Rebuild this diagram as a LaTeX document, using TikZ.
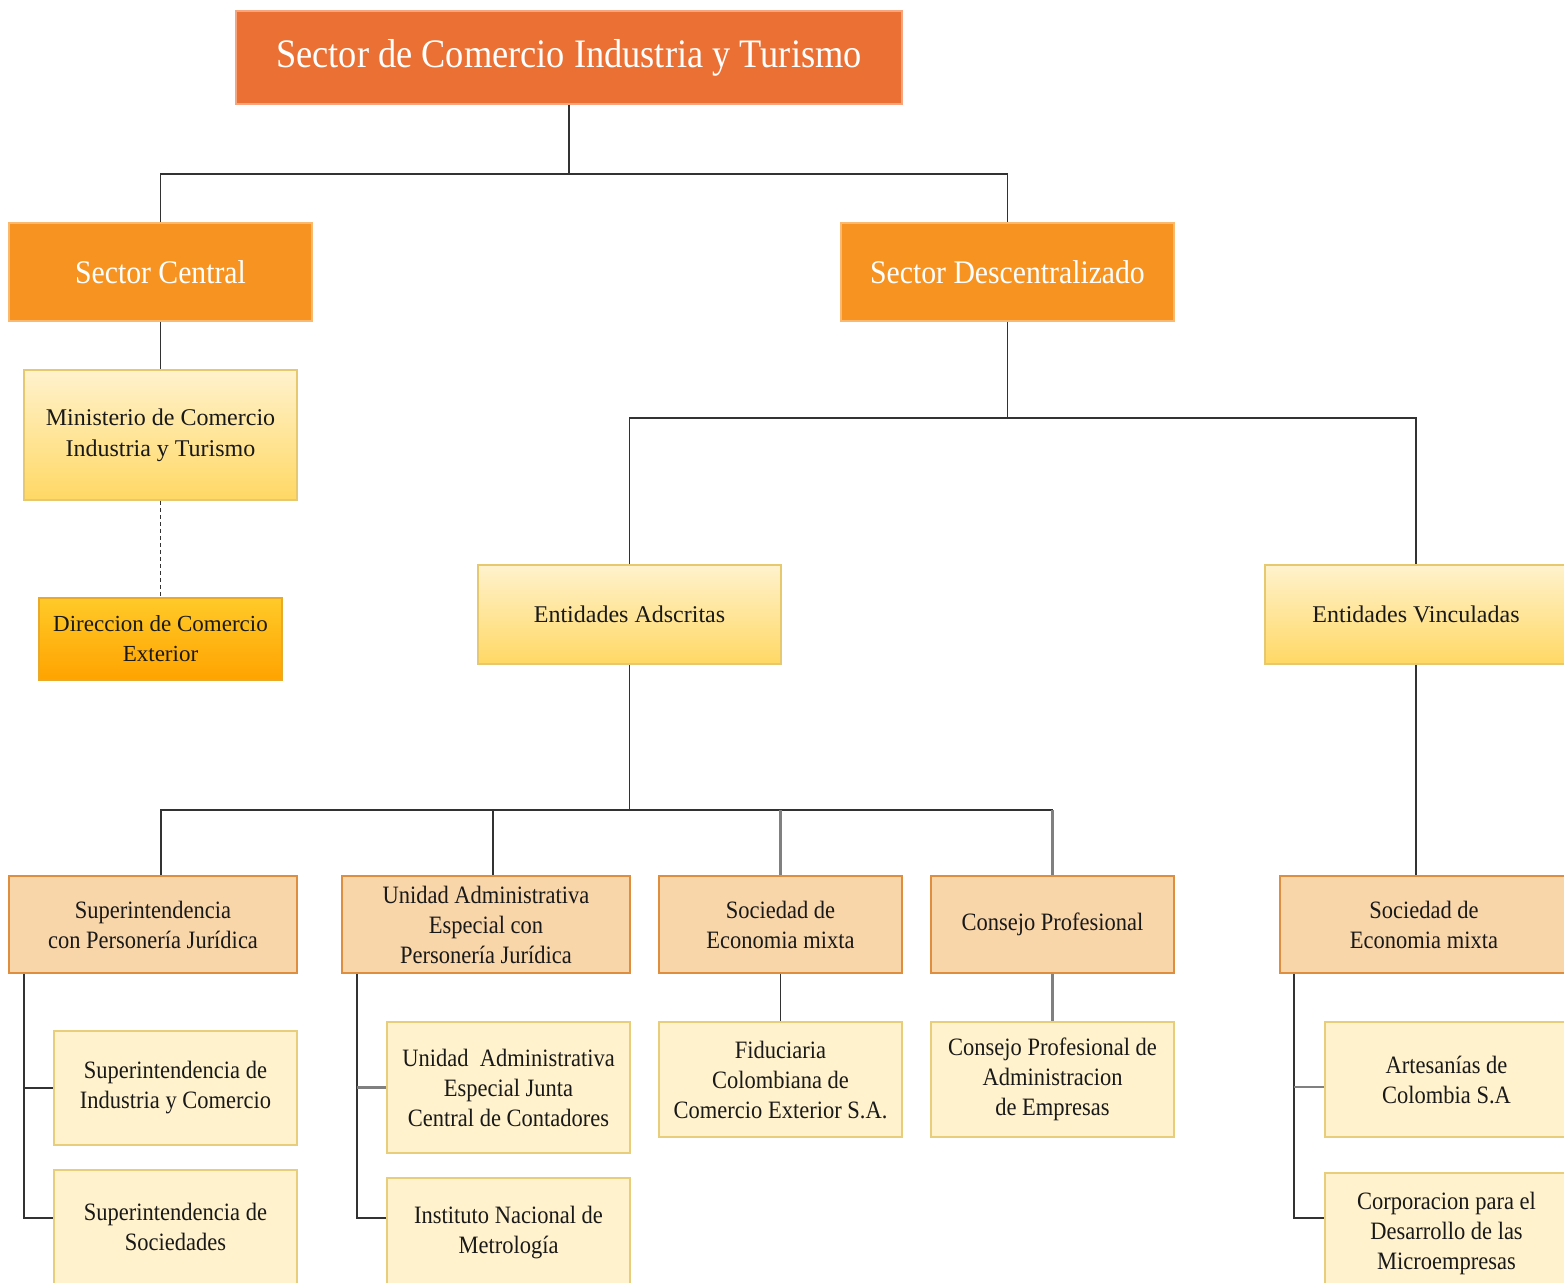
\documentclass[tikz,border=0pt]{standalone}
\usepackage{fontspec}
\setmainfont{Liberation Serif}
\newfontfamily\narrowserif{Liberation Serif}[FakeStretch=0.9]
\usetikzlibrary{calc}

\definecolor{titlefill}{RGB}{235,112,52}
\definecolor{titleline}{RGB}{246,165,125}
\definecolor{sectorfill}{RGB}{247,148,33}
\definecolor{sectorline}{RGB}{250,185,110}
\definecolor{entTop}{RGB}{255,242,205}
\definecolor{entBot}{RGB}{255,216,100}
\definecolor{entline}{RGB}{230,200,110}
\definecolor{dirTop}{RGB}{255,202,40}
\definecolor{dirBot}{RGB}{255,163,0}
\definecolor{dirline}{RGB}{232,170,40}
\definecolor{peach}{RGB}{249,214,170}
\definecolor{peachline}{RGB}{222,142,62}
\definecolor{pale}{RGB}{255,242,204}
\definecolor{paleline}{RGB}{232,206,122}
\definecolor{textdark}{RGB}{25,25,25}
\definecolor{linkdark}{RGB}{50,50,50}
\definecolor{linkgrey}{RGB}{128,128,128}

\tikzset{orgbox/.style={draw, line width=0.8pt, align=center, inner sep=2pt, text=textdark},
titlebox/.style={orgbox, fill=titlefill, draw=titleline, text=white, font=\narrowserif\fontsize{20.2}{24}\selectfont},
sectorbox/.style={orgbox, fill=sectorfill, draw=sectorline, text=white, font=\narrowserif\fontsize{16.5}{20}\selectfont},
entbox/.style={orgbox, top color=entTop, bottom color=entBot, draw=entline, font=\fontsize{12}{15.5}\selectfont},
dirbox/.style={orgbox, top color=dirTop, bottom color=dirBot, draw=dirline, font=\fontsize{11.5}{15}\selectfont},
groupbox/.style={orgbox, fill=peach, draw=peachline, font=\narrowserif\fontsize{12.5}{15}\selectfont},
unitbox/.style={orgbox, fill=pale, draw=paleline, font=\narrowserif\fontsize{12.5}{15}\selectfont},
conn/.style={draw=linkdark, line width=0.9pt},
greyconn/.style={draw=linkgrey, line width=1.2pt},
%width and height of a box
sz/.style 2 args={minimum width=#1, minimum height=#2}}

\begin{document}
\begin{tikzpicture}[x=0.5pt, y=-0.5pt]

    \useasboundingbox (0,0) rectangle (1564,1283);

    \node[titlebox, sz={333pt}{46.5pt}] (top) at (569,57.5) {Sector de Comercio Industria y Turismo};

    \node[sectorbox, sz={151.5pt}{49pt}] (central) at (160.5,272) {Sector Central};
    \node[sectorbox, sz={166.5pt}{49pt}] (descen) at (1007.5,272) {Sector Descentralizado};

    \node[entbox, sz={136.5pt}{65pt}] (mincit) at (160.5,435) {Ministerio de Comercio\\Industria y Turismo};
    \node[dirbox, sz={121.5pt}{41pt}] (dce) at (160.5,639) {Direccion de Comercio\\Exterior};

    \node[entbox, sz={151.5pt}{49.5pt}] (adscritas) at (629.5,614.5) {Entidades Adscritas};
    \node[entbox, sz={151pt}{49.5pt}] (vinculadas) at (1416,614.5) {Entidades Vinculadas};

    \node[groupbox, sz={144pt}{48.5pt}] (superpj) at (153,924.5) {Superintendencia\\con Personería Jurídica};
    \node[groupbox, sz={144pt}{48.5pt}] (uaepj) at (486,924.5) {Unidad Administrativa\\Especial con\\Personería Jurídica};
    \node[groupbox, sz={121.5pt}{48.5pt}] (mixtaA) at (780.5,924.5) {Sociedad de\\Economia mixta};
    \node[groupbox, sz={121.5pt}{48.5pt}] (consejo) at (1052.5,924.5) {Consejo Profesional};
    \node[groupbox, sz={144pt}{48.5pt}] (mixtaV) at (1424,924.5) {Sociedad de\\Economia mixta};

    \node[unitbox, sz={121.5pt}{57pt}] (sic) at (175.5,1088) {Superintendencia de\\Industria y Comercio};
    \node[unitbox, sz={121.5pt}{57pt}] (supersoc) at (175.5,1227) {Superintendencia de\\Sociedades};
    \node[unitbox, sz={121.5pt}{65.5pt}] (jcc) at (508.5,1087.5) {Unidad~~Administrativa\\Especial Junta\\Central de Contadores};
    \node[unitbox, sz={121.5pt}{55pt}] (inm) at (508.5,1233) {Instituto Nacional de\\Metrología};
    \node[unitbox, sz={121.5pt}{57.5pt}] (fiducoldex) at (780.5,1079.5) {Fiduciaria\\Colombiana de\\Comercio Exterior S.A.};
    \node[unitbox, sz={121.5pt}{57.5pt}] (cpae) at (1052.5,1079.5) {Consejo Profesional de\\Administracion\\de Empresas};
    \node[unitbox, sz={121.5pt}{57.5pt}] (artesanias) at (1446.5,1079.5) {Artesanías de\\Colombia S.A};
    \node[unitbox, sz={121.5pt}{60pt}] (microemp) at (1446.5,1233) {Corporacion para el\\Desarrollo de las\\Microempresas};

    % buses
    \coordinate (bus1) at (569,174);
    \coordinate (bus2) at (1007.5,418);
    \coordinate (bus3) at (629.5,810);

    \draw[conn] (top.south) -- (bus1);
    \draw[conn] (central.north) |- (bus1) -| (descen.north);
    \draw[conn] (central.south) -- (mincit.north);
    \draw[conn, dash pattern=on 2pt off 1.5pt] (mincit.south) -- (dce.north);

    \draw[conn] (descen.south) -- (bus2);
    \draw[conn] (adscritas.north) |- (bus2) -| (vinculadas.north);

    \draw[conn] (adscritas.south) -- (bus3);
    \draw[conn] ([xshift=4pt]superpj.north) |- (consejo.north |- bus3);
    \draw[conn] ([xshift=3.5pt]uaepj.north) -- ++(0,-66);
    \foreach \n in {mixtaA,consejo}
        \draw[greyconn] (\n.north) -- (\n.north |- bus3);
    \draw[conn] (vinculadas.south) -- (vinculadas.south |- mixtaV.north);

    \draw[conn] ([xshift=8pt]superpj.south west) |- ([yshift=4.5pt]supersoc.west);
    \draw[conn] ([xshift=8pt]superpj.south west |- sic.west) -- (sic.west);

    \draw[conn] ([xshift=8pt]uaepj.south west) |- ([yshift=7.5pt]inm.west);
    \draw[greyconn] ([xshift=8pt]uaepj.south west |- jcc.west) -- (jcc.west);

    \draw[conn] (mixtaA.south) -- (fiducoldex.north);
    \draw[greyconn] (consejo.south) -- (cpae.north);

    \draw[conn] ([xshift=7.5pt]mixtaV.south west) |- ([yshift=7.5pt]microemp.west);
    \draw[greyconn] ([xshift=7.5pt,yshift=-3.75pt]mixtaV.south west |- artesanias.west) -- ([yshift=-3.75pt]artesanias.west);

  \end{tikzpicture}
\end{document}
